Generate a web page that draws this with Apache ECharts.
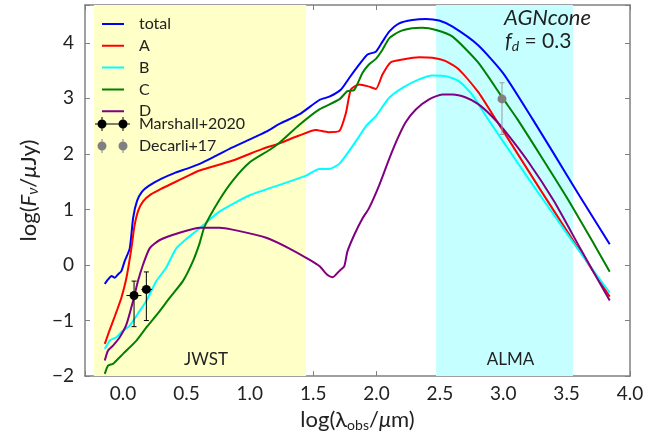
<!DOCTYPE html>
<html>
<head>
<meta charset="utf-8">
<script src="https://cdn.jsdelivr.net/npm/echarts@6.0.0/dist/echarts.min.js"></script>
<style>
html, body { margin: 0; padding: 0; background: #fff; }
#main { width: 661px; height: 437px; }
</style>
</head>
<body>
<div id="main"></div>
<script>
// model SEDs, log(lambda_obs/um) vs log(F_nu/uJy)
var totalX = [-0.144, -0.118, -0.09, -0.065, -0.04, -0.013, 0.013, 0.053, 0.08, 0.11, 0.15, 0.2, 0.3, 0.4, 0.5, 0.604, 0.72, 0.84, 1.0, 1.13, 1.234, 1.39, 1.549, 1.628, 1.72, 1.786, 1.864, 1.929, 1.995, 2.047, 2.1, 2.179, 2.283, 2.39, 2.494, 2.6, 2.8, 3.0, 3.23, 3.4, 3.6, 3.84];
var totalY = [-0.34, -0.26, -0.2, -0.23, -0.17, -0.11, 0.07, 0.30, 0.85, 1.15, 1.32, 1.42, 1.55, 1.65, 1.73, 1.82, 1.95, 2.09, 2.26, 2.40, 2.54, 2.71, 2.97, 3.03, 3.16, 3.37, 3.61, 3.79, 3.84, 4.02, 4.2, 4.35, 4.41, 4.43, 4.40, 4.29, 3.96, 3.45, 2.63, 2.0, 1.25, 0.375];

var aX = [-0.144, -0.11, -0.079, -0.045, -0.013, 0.027, 0.066, 0.09, 0.12, 0.16, 0.22, 0.3, 0.4, 0.5, 0.604, 0.866, 1.1, 1.234, 1.39, 1.52, 1.62, 1.706, 1.759, 1.798, 1.864, 1.929, 1.995, 2.047, 2.113, 2.205, 2.336, 2.441, 2.546, 2.65, 2.8, 2.93, 3.1, 3.3, 3.5, 3.7, 3.84];
var aY = [-1.42, -1.2, -1.01, -0.8, -0.59, -0.23, 0.30, 0.70, 0.98, 1.15, 1.27, 1.37, 1.48, 1.59, 1.70, 1.88, 2.09, 2.19, 2.33, 2.43, 2.39, 2.41, 2.74, 3.16, 3.25, 3.22, 3.17, 3.43, 3.65, 3.70, 3.74, 3.73, 3.67, 3.52, 3.12, 2.66, 2.05, 1.33, 0.62, -0.08, -0.57];

var bX = [-0.144, -0.105, -0.08, -0.052, 0.0, 0.05, 0.09, 0.13, 0.184, 0.263, 0.34, 0.42, 0.5, 0.605, 0.76, 1.0, 1.26, 1.444, 1.549, 1.628, 1.706, 1.786, 1.85, 1.917, 1.995, 2.1, 2.205, 2.336, 2.44, 2.546, 2.65, 2.75, 2.87, 3.0, 3.2, 3.4, 3.6, 3.84];
var bY = [-1.51, -1.36, -1.33, -1.30, -1.18, -1.1, -0.97, -0.83, -0.65, -0.29, -0.05, 0.30, 0.47, 0.66, 0.96, 1.255, 1.46, 1.61, 1.73, 1.73, 1.82, 2.06, 2.27, 2.5, 2.68, 3.01, 3.19, 3.34, 3.41, 3.40, 3.31, 3.08, 2.66, 2.22, 1.55, 0.90, 0.25, -0.50];

var cX = [-0.144, -0.118, -0.079, -0.052, 0.0, 0.106, 0.184, 0.289, 0.368, 0.472, 0.551, 0.604, 0.643, 0.76, 0.866, 1.0, 1.155, 1.234, 1.39, 1.549, 1.706, 1.77, 1.824, 1.89, 1.94, 1.995, 2.047, 2.1, 2.18, 2.28, 2.36, 2.47, 2.6, 2.8, 3.0, 3.11, 3.3, 3.5, 3.7, 3.84];
var cY = [-1.96, -1.81, -1.78, -1.72, -1.60, -1.36, -1.125, -0.83, -0.59, -0.29, 0.066, 0.39, 0.69, 1.17, 1.52, 1.85, 2.07, 2.2, 2.52, 2.80, 2.98, 3.13, 3.15, 3.46, 3.61, 3.71, 3.875, 4.08, 4.20, 4.26, 4.27, 4.23, 4.11, 3.65, 2.99, 2.63, 1.95, 1.22, 0.44, -0.12];

var dX = [-0.144, -0.118, -0.079, -0.026, 0.027, 0.079, 0.118, 0.157, 0.21, 0.29, 0.446, 0.605, 0.76, 0.92, 1.13, 1.31, 1.47, 1.549, 1.614, 1.654, 1.706, 1.746, 1.77, 1.824, 1.89, 1.94, 2.02, 2.1, 2.165, 2.23, 2.31, 2.415, 2.52, 2.6, 2.7, 2.8, 2.9, 3.0, 3.2, 3.4, 3.6, 3.84];
var dY = [-1.72, -1.54, -1.45, -1.30, -1.07, -0.65, -0.29, 0.0, 0.30, 0.45, 0.58, 0.67, 0.67, 0.61, 0.49, 0.30, 0.095, -0.02, -0.18, -0.22, -0.11, -0.02, 0.24, 0.54, 0.84, 1.02, 1.43, 1.91, 2.27, 2.57, 2.80, 2.98, 3.07, 3.07, 3.02, 2.9, 2.7, 2.45, 1.85, 1.15, 0.33, -0.64];

// photometry
var marshallX = [0.087, 0.184];
var marshallY = [-0.55, -0.44];
var marshallXLo = [0.027, 0.145];
var marshallXHi = [0.145, 0.23];
var marshallYLo = [-1.11, -1.0];
var marshallYHi = [-0.29, -0.125];

var decarliX = [2.99];
var decarliY = [2.99];
var decarliYLo = [2.35];
var decarliYHi = [3.28];

// bands
var jwstBand = [-0.23, 1.444];
var almaBand = [2.47, 3.55];

var FONT = 'Lato';
var TXT = '#222';
var BOX = '#808080';

var myChart = echarts.init(document.getElementById('main'));

function sedLine(name, xs, ys, color) {
    return {
        name: name,
        type: 'line',
        data: xs.map(function (x, i) { return [x, ys[i]]; }),
        symbol: 'none',
        showSymbol: false,
        smooth: 0.2,
        silent: true,
        z: 3,
        lineStyle: { color: color, width: 2 },
        itemStyle: { color: color }
    };
}

function errorBars(params, api) {
    var x = api.value(0), y = api.value(1);
    var p = api.coord([x, y]);
    var color = api.visual('color');
    var barColor = params.seriesName === 'Decarli+17' ? '#9a9a9a' : color;
    var yl = api.coord([x, api.value(4)]);
    var yh = api.coord([x, api.value(5)]);
    var st = { stroke: barColor, lineWidth: 1 };
    var kids = [
        { type: 'line', shape: { x1: p[0], y1: yl[1], x2: p[0], y2: yh[1] }, style: st },
        { type: 'line', shape: { x1: p[0] - 2.5, y1: yl[1], x2: p[0] + 2.5, y2: yl[1] }, style: st },
        { type: 'line', shape: { x1: p[0] - 2.5, y1: yh[1], x2: p[0] + 2.5, y2: yh[1] }, style: st }
    ];
    if (api.value(2) !== api.value(3)) {
        var xl = api.coord([api.value(2), y]);
        var xh = api.coord([api.value(3), y]);
        kids.push({ type: 'line', shape: { x1: xl[0], y1: p[1], x2: xh[0], y2: p[1] }, style: st });
    }
    kids.push({ type: 'circle', shape: { cx: p[0], cy: p[1], r: 4.5 }, style: { fill: color } });
    return { type: 'group', children: kids };
}

// legend glyphs; tiny corner dots pin the bounding box so nothing is stretched
var lineIcon = 'path://M0,0h0.01v0.01h-0.01z M0,6h22v2h-22z M21.99,13.99h0.01v0.01h-0.01z';
var dots = ' M2.5,7a4.5,4.5 0 1,1 9,0a4.5,4.5 0 1,1 -9,0z M23.5,7a4.5,4.5 0 1,1 9,0a4.5,4.5 0 1,1 -9,0z';
var marshallIcon = 'path://M0,6.5h35v1h-35z M6.5,0h1v14h-1z M27.5,0h1v14h-1z' + dots;
var decarliIcon = 'path://M0,7h0.01v0.01h-0.01z M34.99,7h0.01v0.01h-0.01z M6.5,0h1v14h-1z M27.5,0h1v14h-1z' + dots;

function tickFmt(digits) {
    return function (v) {
        if (Math.abs(v * 2 - Math.round(v * 2)) > 1e-6) return '';
        if (digits === 0 && Math.abs(v - Math.round(v)) > 1e-6) return '';
        var s = v.toFixed(digits);
        return v < 0 ? '\u2212' + s.replace('-', '') : s;
    };
}

var boxAxisX = {
    type: 'value', min: -0.3, max: 4.0, splitNumber: 9, minInterval: 0.5, maxInterval: 0.5,
    splitLine: { show: false },
    axisLine: { show: true, onZero: false, lineStyle: { color: BOX, width: 1.5 } },
    axisTick: { show: true, inside: true, length: 5, lineStyle: { color: BOX } }
};
var boxAxisY = {
    type: 'value', min: -2, max: 4.68, interval: 1,
    splitLine: { show: false },
    axisLine: { show: true, onZero: false, lineStyle: { color: BOX, width: 1.5 } },
    axisTick: { show: true, inside: true, length: 5, lineStyle: { color: BOX } }
};

var nameRich = {
    n: { fontFamily: FONT, fontSize: 22, color: TXT },
    i: { fontFamily: FONT, fontSize: 22, color: TXT, fontStyle: 'italic' },
    s: { fontFamily: FONT, fontSize: 14, color: TXT, verticalAlign: 'bottom', lineHeight: 14 },
    si: { fontFamily: FONT, fontSize: 15, color: TXT, fontStyle: 'italic', verticalAlign: 'bottom', lineHeight: 14 }
};

var option = {
    animation: false,
    backgroundColor: '#fff',
    grid: { left: 85, right: 31, top: 5, bottom: 57 },
    xAxis: [
        Object.assign({}, boxAxisX, {
            position: 'bottom',
            axisLabel: { formatter: tickFmt(1), fontFamily: FONT, fontSize: 19, color: TXT, margin: 8 },
            name: '{n|log(λ}{s|obs}{n|/}{i|μ}{n|m)}',
            nameLocation: 'middle',
            nameGap: 30,
            nameTextStyle: { rich: nameRich, lineHeight: 24 }
        }),
        Object.assign({}, boxAxisX, { position: 'top', axisLabel: { show: false } })
    ],
    yAxis: [
        Object.assign({}, boxAxisY, {
            position: 'left',
            axisLabel: { formatter: tickFmt(0), fontFamily: FONT, fontSize: 19, color: TXT, margin: 11 },
            name: '{n|log(}{i|F}{si|ν}{n|/}{i|μ}{n|Jy)}',
            nameLocation: 'middle',
            nameGap: 42,
            nameTextStyle: { rich: nameRich, lineHeight: 24 }
        }),
        Object.assign({}, boxAxisY, { position: 'right', axisLabel: { show: false } })
    ],
    legend: [
        {
            left: 102, top: 16, orient: 'vertical', padding: 0, z: 10,
            itemWidth: 22, itemHeight: 14, itemGap: 5.8,
            selectedMode: false,
            textStyle: { fontFamily: FONT, fontSize: 16, color: TXT, lineHeight: 14, padding: [0, 0, 0, 10] },
            data: ['total', 'A', 'B', 'C', 'D'].map(function (n) { return { name: n, icon: lineIcon }; })
        },
        {
            left: 95, top: 116, orient: 'vertical', padding: 0, z: 10,
            itemWidth: 35, itemHeight: 14, itemGap: 6,
            selectedMode: false,
            textStyle: { fontFamily: FONT, fontSize: 16, color: TXT, lineHeight: 14, padding: [0, 0, 0, 4] },
            data: [
                { name: 'Marshall+2020', icon: marshallIcon },
                { name: 'Decarli+17', icon: decarliIcon }
            ]
        }
    ],
    graphic: [
        {
            type: 'text', left: 504, top: 7, silent: true, z: 100,
            style: { text: 'AGNcone', fontFamily: FONT, fontSize: 22, fontStyle: 'italic', fill: TXT }
        },
        {
            type: 'text', left: 505, top: 31, silent: true, z: 100,
            style: {
                text: '{i|f}{s|d}{n| = 0.3}',
                rich: {
                    n: { fontFamily: FONT, fontSize: 21, fill: TXT, lineHeight: 24 },
                    i: { fontFamily: FONT, fontSize: 21, fill: TXT, fontStyle: 'italic', lineHeight: 24 },
                    s: { fontFamily: FONT, fontSize: 14, fill: TXT, fontStyle: 'italic', verticalAlign: 'bottom', lineHeight: 14 }
                }
            }
        }
    ],
    series: [
        {
            name: 'bands',
            type: 'line',
            data: [],
            z: 1,
            silent: true,
            markArea: {
                silent: true,
                label: { show: true, position: 'insideBottom', distance: 8, offset: [6, 0], fontFamily: FONT, fontSize: 17, color: TXT },
                data: [
                    [{ name: 'JWST', xAxis: jwstBand[0], itemStyle: { color: '#ffffc8' } }, { xAxis: jwstBand[1] }],
                    [{ name: 'ALMA', xAxis: almaBand[0], itemStyle: { color: '#c6ffff' } }, { xAxis: almaBand[1] }]
                ]
            }
        },
        sedLine('total', totalX, totalY, '#0000ff'),
        sedLine('A', aX, aY, '#ff0000'),
        sedLine('B', bX, bY, '#00ffff'),
        sedLine('C', cX, cY, '#008000'),
        sedLine('D', dX, dY, '#800080'),
        {
            name: 'Marshall+2020',
            type: 'custom',
            renderItem: errorBars,
            itemStyle: { color: '#000' },
            encode: { x: 0, y: 1 },
            z: 5,
            silent: true,
            data: marshallX.map(function (x, i) {
                return [x, marshallY[i], marshallXLo[i], marshallXHi[i], marshallYLo[i], marshallYHi[i]];
            })
        },
        {
            name: 'Decarli+17',
            type: 'custom',
            renderItem: errorBars,
            itemStyle: { color: '#808080' },
            encode: { x: 0, y: 1 },
            z: 5,
            silent: true,
            data: decarliX.map(function (x, i) {
                return [x, decarliY[i], x, x, decarliYLo[i], decarliYHi[i]];
            })
        }
    ]
};

myChart.setOption(option);
</script>
</body>
</html>
